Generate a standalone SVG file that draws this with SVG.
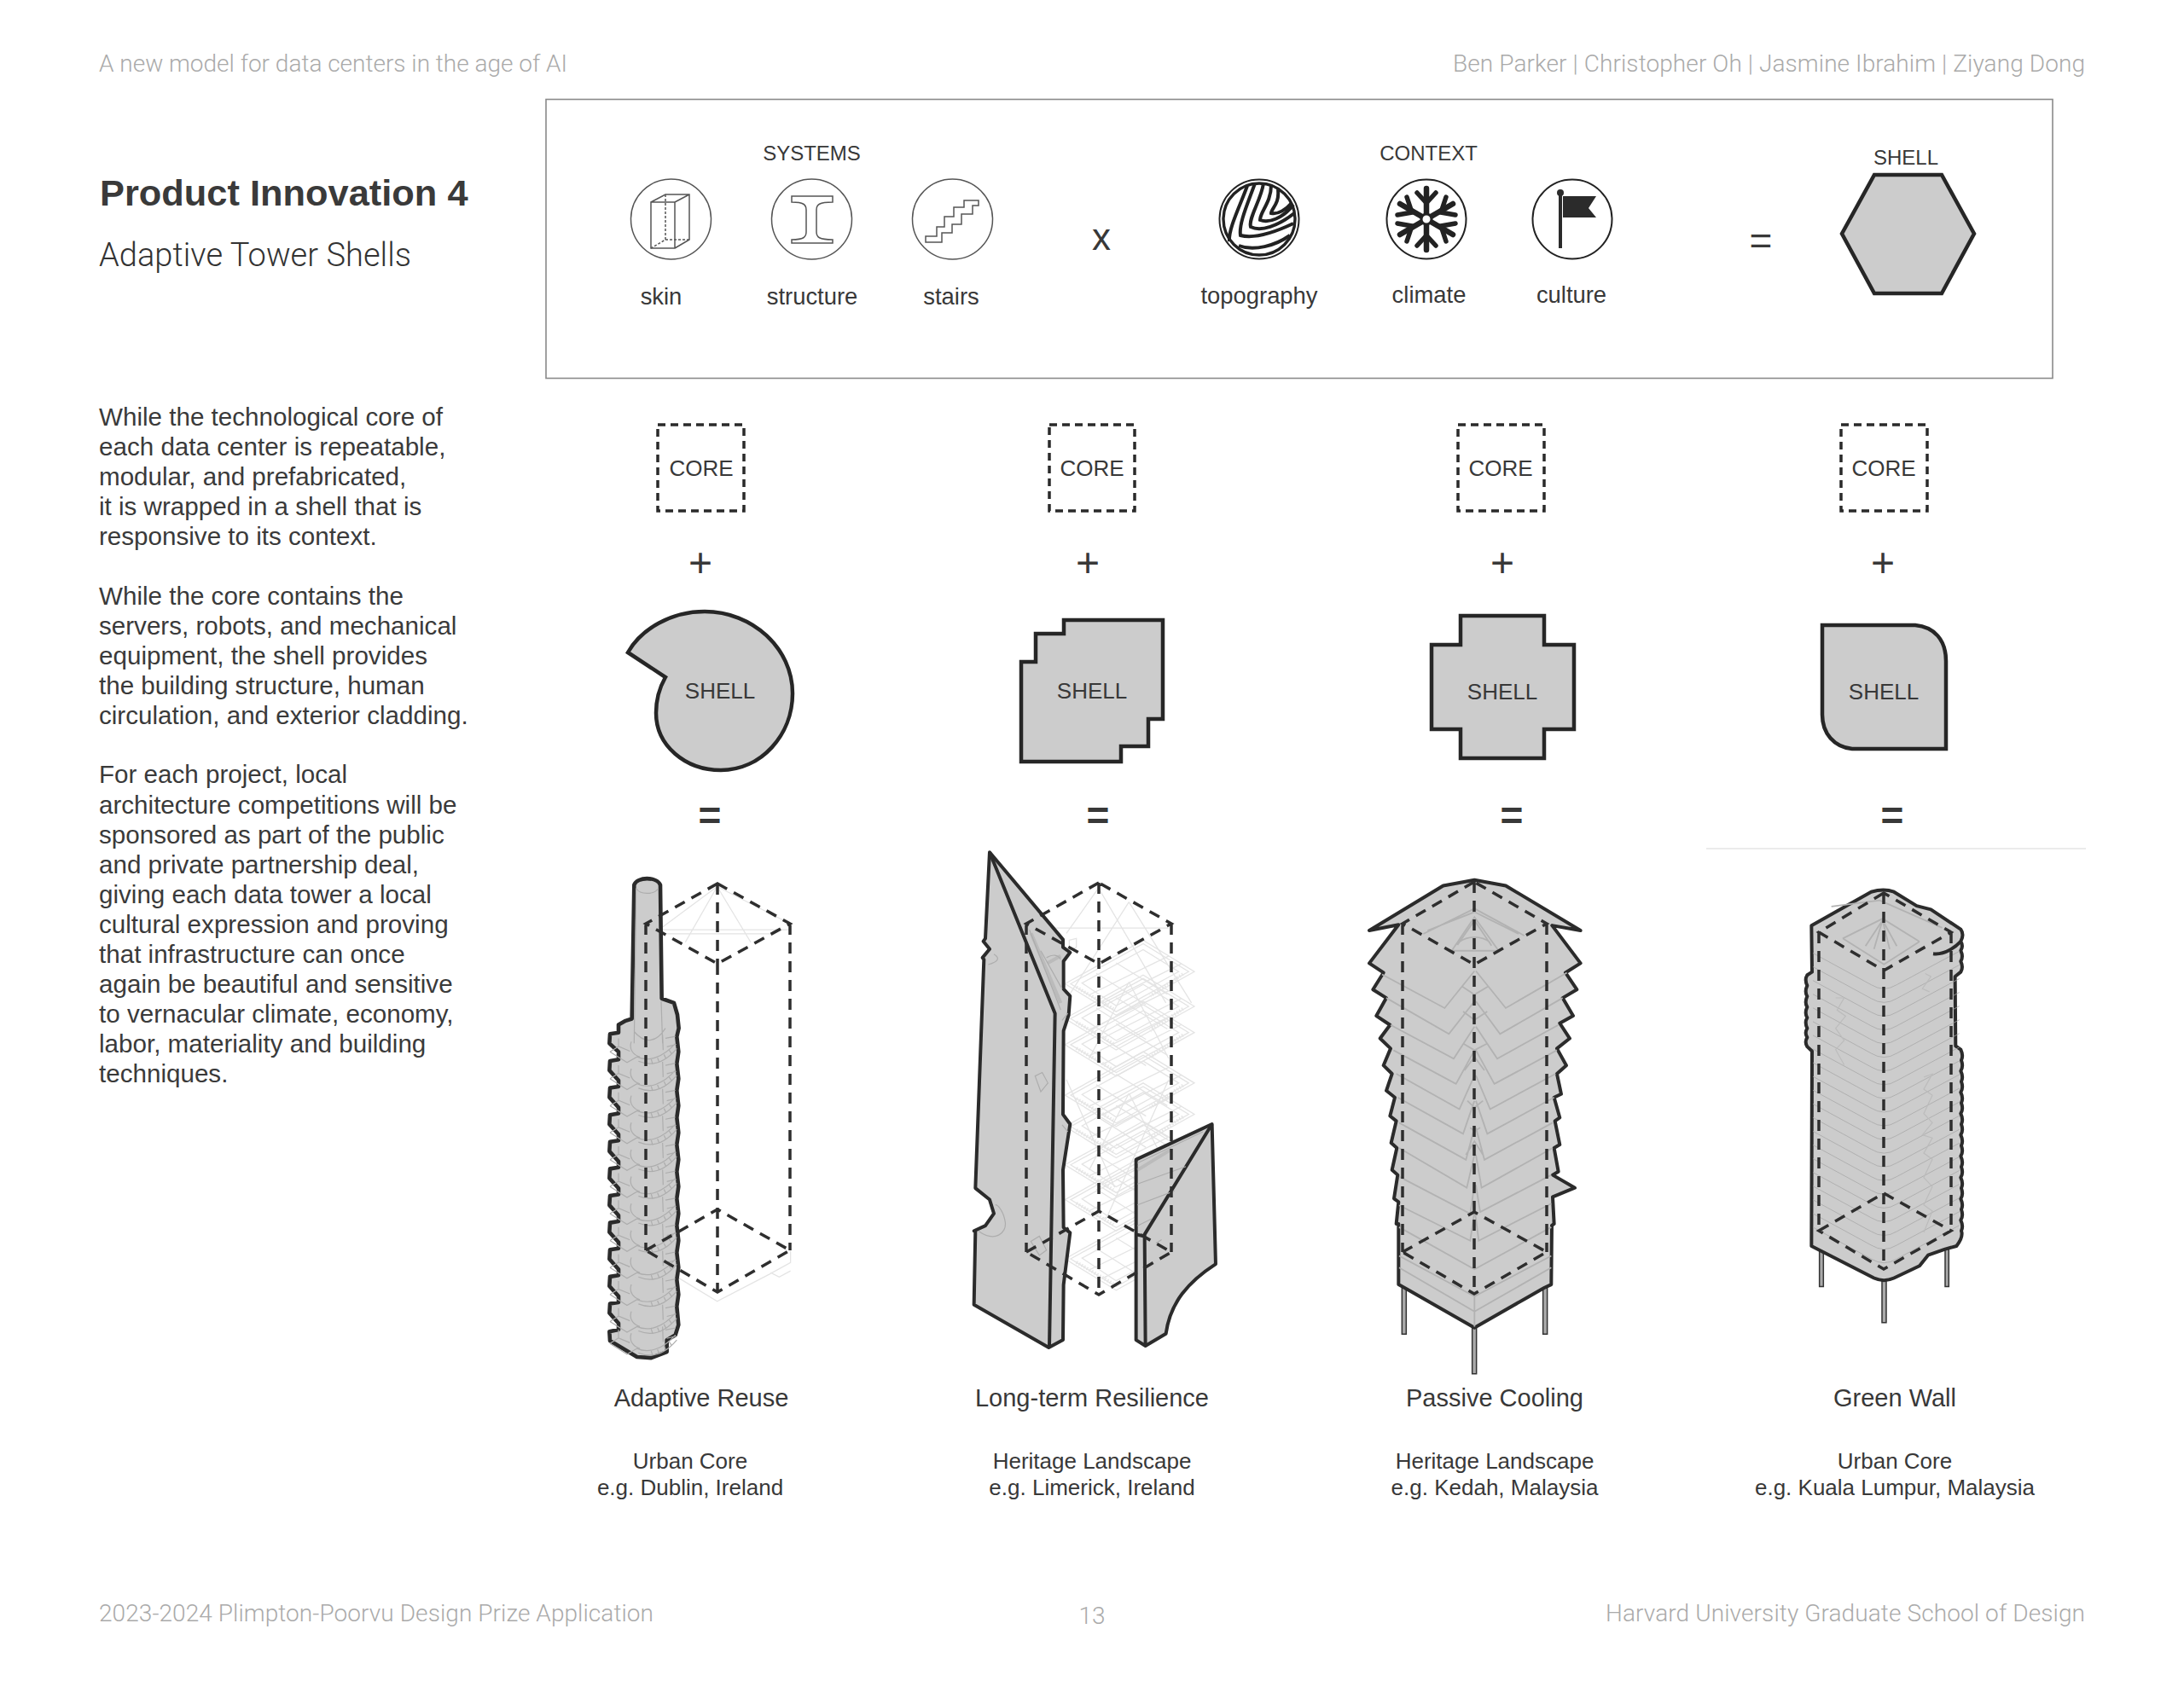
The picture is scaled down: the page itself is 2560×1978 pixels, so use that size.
<svg xmlns="http://www.w3.org/2000/svg" width="2560" height="1978" viewBox="0 0 2560 1978">
<style>
text{font-family:"Liberation Sans",Arial,sans-serif;fill:#383838}
.hd{font-family:Roboto,"Liberation Sans",sans-serif;font-weight:300;font-size:28px;fill:#aaa}
.body{font-size:29.6px;fill:#3a3a3a}
.lb{font-size:27.4px;text-anchor:middle}
.cap{font-size:24px;text-anchor:middle}
.t{font-size:26px;text-anchor:middle}
.sym{font-size:48px;text-anchor:middle}
.eq{font-size:46px;text-anchor:middle;font-weight:700}
.nm{font-size:29px;text-anchor:middle}
.sub{font-size:26px;text-anchor:middle}
.shell{fill:#ccc;stroke:#262626;stroke-width:4.5;stroke-linejoin:miter}
.core{fill:none;stroke:#2a2a2a;stroke-width:3.5;stroke-dasharray:9 6}
.dash{fill:none;stroke:#2e2e2e;stroke-width:3.5;stroke-dasharray:13 9;vector-effect:non-scaling-stroke}
.ic{fill:none;stroke:#555;stroke-width:1.5}
.o{fill:#ccc;stroke:#2b2b2b;stroke-width:4;stroke-linejoin:round;vector-effect:non-scaling-stroke}
.i{fill:none;stroke:#adadad;stroke-width:1.2;vector-effect:non-scaling-stroke}
.i2{fill:none;stroke:#b2b2b2;stroke-width:1.8;vector-effect:non-scaling-stroke}
.f{fill:none;stroke:#e4e4e4;stroke-width:1.3;vector-effect:non-scaling-stroke}
.leg{fill:#aaa;stroke:#333;stroke-width:1.5;vector-effect:non-scaling-stroke}
</style>
<defs>
<g id="stairfloor">
<path class="i" d="M135,-10 L135,14 L175,28 M105,30 L135,14 M105,30 L165,62 L200,45 C240,60 290,48 335,5 M180,0 C170,25 190,40 210,45 M205,58 C255,75 300,60 340,20 M290,-20 L292,25 M300,-10 L335,-16 M305,15 L338,8"/>
<path class="i" d="M250,52 L255,66 M272,48 L278,60 M295,38 L302,50 M313,25 L322,36"/>
</g>
<g id="plate">
<path class="f" d="M0,0 L275,-125 L455,-35 L180,90 Z M20,0 L275,-115 L435,-35 L180,80 Z M60,-2 L275,-98 L400,-35 L180,63 Z"/>
<path class="f" d="M90,30 L365,-80 M135,55 L410,-58 M180,-60 L360,30 M110,-30 L285,60"/>
<path d="M40,10 L170,72 M415,-28 L300,35" fill="none" stroke="#e6e6e6" stroke-width="4" stroke-dasharray="1.5 2" style="vector-effect:non-scaling-stroke"/>
</g>
<path id="band" d="M-250,-122 L-45,-18 Q0,8 45,-18 L265,-128"/>
</defs>
<rect width="2560" height="1978" fill="#fff"/>

<g id="page-text">
<text class="hd" x="116" y="84" textLength="549">A new model for data centers in the age of AI</text>
<text class="hd" x="2444" y="84" text-anchor="end" textLength="741">Ben Parker | Christopher Oh | Jasmine Ibrahim | Ziyang Dong</text>
<text x="117" y="241" font-size="43.4" font-weight="700" style="fill:#3a3a3a">Product Innovation 4</text>
<text x="116" y="312" font-size="38" style="font-family:Roboto,'Liberation Sans',sans-serif;font-weight:300;fill:#333" textLength="366">Adaptive Tower Shells</text>
<text class="body" x="116" y="499">While the technological core of</text>
<text class="body" x="116" y="534">each data center is repeatable,</text>
<text class="body" x="116" y="569">modular, and prefabricated,</text>
<text class="body" x="116" y="604">it is wrapped in a shell that is</text>
<text class="body" x="116" y="639">responsive to its context.</text>
<text class="body" x="116" y="709">While the core contains the</text>
<text class="body" x="116" y="744">servers, robots, and mechanical</text>
<text class="body" x="116" y="779">equipment, the shell provides</text>
<text class="body" x="116" y="814">the building structure, human</text>
<text class="body" x="116" y="849">circulation, and exterior cladding.</text>
<text class="body" x="116" y="918">For each project, local</text>
<text class="body" x="116" y="953.5">architecture competitions will be</text>
<text class="body" x="116" y="988.5">sponsored as part of the public</text>
<text class="body" x="116" y="1023.5">and private partnership deal,</text>
<text class="body" x="116" y="1058.5">giving each data tower a local</text>
<text class="body" x="116" y="1093.5">cultural expression and proving</text>
<text class="body" x="116" y="1128.5">that infrastructure can once</text>
<text class="body" x="116" y="1163.5">again be beautiful and sensitive</text>
<text class="body" x="116" y="1198.5">to vernacular climate, economy,</text>
<text class="body" x="116" y="1233.5">labor, materiality and building</text>
<text class="body" x="116" y="1268.5">techniques.</text>
<text class="hd" x="116" y="1901" textLength="650">2023-2024 Plimpton-Poorvu Design Prize Application</text>
<text class="hd" x="1280" y="1904" text-anchor="middle">13</text>
<text class="hd" x="2444" y="1901" text-anchor="end" textLength="562">Harvard University Graduate School of Design</text>
</g>

<g id="equation-panel">
<rect x="640" y="116.5" width="1766" height="327" fill="#fff" stroke="#8a8a8a" stroke-width="1.6"/>
<text class="cap" x="951.5" y="188">SYSTEMS</text>
<text class="cap" x="1674.5" y="188">CONTEXT</text>
<text class="cap" x="2234" y="192.5">SHELL</text>
<text class="sym" x="1291" y="293" style="font-size:44px">x</text>
<text class="eq" x="2064" y="298" style="font-weight:400">=</text>
</g>

<g id="icon-skin"><circle class="ic" cx="786.5" cy="257" r="47"/>
<path class="ic" d="M763,237 L763,291 L791,291 L791,237 Z M763,237 L780,228 L808,228 L808,281 L791,291 M791,237 L808,228"/>
<path class="ic" stroke-dasharray="3 2" d="M780,228 L780,281 L763,291 M780,281 L808,281"/>
<text class="lb" x="775" y="357">skin</text></g>
<g id="icon-structure"><circle class="ic" cx="951.5" cy="257" r="47"/>
<path class="ic" d="M928,230 L976,230 L976,237 C960,237 957,240 957,246 L957,272 C957,278 960,281 976,281 L976,285 L928,285 L928,281 C942,281 945,278 945,272 L945,246 C945,240 942,237 928,237 Z" stroke-width="1.8"/>
<text class="lb" x="952" y="357">structure</text></g>
<g id="icon-stairs"><circle class="ic" cx="1116.5" cy="257" r="47"/>
<path class="ic" stroke-width="1.8" d="M1085,284 L1085,277 L1098,277 L1098,266 L1107,266 L1107,254 L1118,254 L1118,243 L1130,243 L1130,235 L1147,235 L1147,241 L1140,241 L1140,251 L1127,251 L1127,263 L1116,263 L1116,273 L1104,273 L1104,284 Z"/>
<text class="lb" x="1115" y="357">stairs</text></g>
<g id="icon-topography"><circle cx="1476" cy="257" r="46.5" fill="#fff" stroke="#222" stroke-width="2"/><circle cx="1476" cy="257" r="42" fill="none" stroke="#222" stroke-width="3.4"/>
<path fill="none" stroke="#222" stroke-width="4" d="M1462,218 C1452,245 1440,268 1441,283 M1471,215 C1462,240 1452,262 1454,276 C1470,280 1495,272 1516,262 M1481,215 C1478,235 1463,256 1466,266 C1478,272 1498,265 1517,250 M1490,217 C1490,238 1477,248 1477,258 C1487,262 1504,256 1516,240 M1498,222 C1500,240 1490,244 1490,250 C1498,252 1508,245 1514,238 M1452,288 C1470,295 1495,288 1512,276"/>
<text class="lb" x="1476" y="356">topography</text></g>
<g id="icon-climate"><circle cx="1672" cy="257" r="46.5" fill="#fff" stroke="#222" stroke-width="2"/>
<g fill="none" stroke="#222" stroke-width="6.5" stroke-linecap="round"><path d="M1672,221 V293 M1641,239 L1703,275 M1703,239 L1641,275"/><path stroke-width="5.5" d="M1661,226 L1672,238 L1683,226 M1661,288 L1672,276 L1683,288 M1638,252 L1655,249 L1649,231 M1706,252 L1689,249 L1695,231 M1638,262 L1655,265 L1649,283 M1706,262 L1689,265 L1695,283"/></g>
<circle cx="1672" cy="257" r="6" fill="#fff" stroke="#222" stroke-width="3"/>
<text class="lb" x="1675" y="355">climate</text></g>
<g id="icon-culture"><circle cx="1843" cy="257" r="46.5" fill="#fff" stroke="#222" stroke-width="2"/>
<path fill="#2b2b2b" d="M1827,226 H1831 V291 H1827 Z M1832,230 H1871 L1862,244 L1871,255 H1832 Z"/><circle cx="1829" cy="226" r="4" fill="#2b2b2b"/>
<text class="lb" x="1842" y="355">culture</text></g>
<g id="shell-hexagon"><path class="shell" d="M2197,205 L2276,205 L2314,274 L2276,344 L2197,344 L2159,274 Z"/></g>

<g id="col1-formula">
<rect class="core" x="771" y="498" width="101" height="101"/><text class="t" x="822" y="558">CORE</text>
<text class="sym" x="821" y="676">+</text>
<path class="shell" d="M736,765 L780,794 C772,808 769,822 769,836 C769,874 803,903 845,903 C892,903 929,862 929,813 C929,760 882,717 826,717 C787,717 752,737 736,765 Z"/>
<text class="t" x="844" y="819">SHELL</text>
<text class="eq" x="832" y="972">=</text>
</g>
<g id="col2-formula">
<rect class="core" x="1230" y="498" width="100" height="101"/><text class="t" x="1280" y="558">CORE</text>
<text class="sym" x="1275" y="676">+</text>
<path class="shell" d="M1247,727 H1363 V843 H1346 V875 H1314 V893 H1197 V776 H1214 V743 H1247 Z"/>
<text class="t" x="1280" y="819">SHELL</text>
<text class="eq" x="1287" y="972">=</text>
</g>
<g id="col3-formula">
<rect class="core" x="1709" y="498" width="101" height="101"/><text class="t" x="1759" y="558">CORE</text>
<text class="sym" x="1761" y="676">+</text>
<path class="shell" d="M1712,722 H1810 V756 H1845 V855 H1810 V889 H1712 V855 H1678 V756 H1712 Z"/>
<text class="t" x="1761" y="820">SHELL</text>
<text class="eq" x="1772" y="972">=</text>
</g>
<g id="col4-formula">
<rect class="core" x="2158" y="498" width="101" height="101"/><text class="t" x="2208" y="558">CORE</text>
<text class="sym" x="2207" y="676">+</text>
<path class="shell" d="M2136,733 H2245 C2267,735 2281,750 2281,775 V878 H2171 C2150,876 2136,860 2136,838 Z"/>
<text class="t" x="2208" y="820">SHELL</text>
<text class="eq" x="2218" y="972">=</text>
<path d="M2000,995 H2445" stroke="#e4e4e4" stroke-width="1.6"/>
</g>

<g id="tower1" transform="translate(680,1000) scale(.3333,.3953)">
<path class="f" d="M482,100 L290,220 M482,100 L738,210 M290,228 H738 M482,100 L370,265 M482,100 L600,265 M290,240 H680 M345,1260 L482,1330 L665,1250 L740,1215 L740,1180 M670,1245 L700,1258 L740,1240"/>
<path class="o" style="stroke-width:4.6" d="M190,95 C200,70 270,70 282,95 L287,432 L330,445 L342,480 L347,520 L340,545 L346,590 L340,625 L346,670 L340,705 L346,750 L340,785 L346,830 L340,865 L346,910 L340,945 L346,990 L340,1025 L346,1070 L340,1105 L346,1150 L340,1185 L346,1230 L340,1265 L346,1310 L340,1345 L346,1400 L335,1430 L305,1445 L305,1480 L250,1498 L200,1495 L105,1447 L103,1420 L135,1414 L135,1395 L103,1365 L105,1337 L135,1333 L135,1315 L103,1285 L105,1257 L135,1253 L135,1235 L103,1205 L105,1177 L135,1173 L135,1155 L103,1125 L105,1097 L135,1093 L135,1075 L103,1045 L105,1017 L135,1013 L135,995 L103,965 L105,937 L135,933 L135,915 L103,885 L105,857 L135,853 L135,835 L103,805 L105,777 L135,773 L135,755 L103,725 L105,697 L135,693 L135,675 L103,645 L105,617 L135,613 L135,590 L103,565 L105,537 L135,533 L135,510 L160,498 L182,492 Z"/>
<path class="i" d="M197,105 C210,125 262,125 275,105 M197,105 L190,565 M285,440 L290,565 M190,530 C230,570 270,560 300,520"/>
<use href="#stairfloor" y="560"/><use href="#stairfloor" y="640"/><use href="#stairfloor" y="720"/><use href="#stairfloor" y="800"/><use href="#stairfloor" y="880"/><use href="#stairfloor" y="960"/><use href="#stairfloor" y="1040"/><use href="#stairfloor" y="1120"/><use href="#stairfloor" y="1200"/><use href="#stairfloor" y="1280"/><use href="#stairfloor" y="1360"/><use href="#stairfloor" y="1425"/>
</g>

<g id="tower2" transform="translate(1110,980) scale(.3333,.4082)">
<use href="#plate" x="415" y="425"/><use href="#plate" x="415" y="525"/><use href="#plate" x="415" y="600"/><use href="#plate" x="415" y="745"/><use href="#plate" x="415" y="835"/><use href="#plate" x="415" y="945"/><use href="#plate" x="415" y="1045"/><use href="#plate" x="415" y="1215"/>
<path class="f" d="M420,280 L533,150 L770,480 M640,190 L420,470 M640,190 L860,480 M290,265 H780 M640,420 L500,640 M640,420 L780,640 M420,700 L590,1010 M780,700 L560,1100 M640,740 L500,960 M640,740 L780,960 M430,300 L455,295 L455,320 L430,330 Z"/>
<path class="o" d="M150,47 L408,298 L408,320 L433,335 L410,360 L410,440 L433,460 L428,515 L410,560 L408,800 L433,828 L408,960 L410,1125 L433,1140 L410,1290 L408,1448 L358,1470 L95,1347 L100,1135 L95,1135 L135,1120 L165,1085 L150,1045 L100,1012 L130,355 L125,350 L150,325 L128,303 L135,295 Z"/>
<path class="o" d="M932,828 L665,930 L665,1448 L698,1465 L770,1430 C785,1340 850,1280 945,1230 Z"/>
<path class="o" style="fill:none" d="M150,47 L380,510 L360,1470 M932,828 L695,1145 L698,1465 M665,1145 L695,1150"/>
<path class="i" d="M290,270 L400,500 M330,330 L405,440 M350,350 C370,340 390,340 400,355 M405,530 L425,510 M165,340 C185,350 185,360 145,370 M310,690 L335,680 L355,710 L330,735 Z M110,1135 C170,1170 210,1140 205,1110 C200,1080 180,1060 170,1060 M295,1165 L325,1150 L350,1190 L325,1205 Z M670,940 L900,850 M670,1000 L840,950 M670,1060 L800,1020 M670,1120 L720,1100 M735,1170 L755,1160 M405,830 L425,850"/>
<path d="M296,280 L400,480 M355,365 L400,345 M670,960 L790,900" fill="none" stroke="#aaa" stroke-width="4" stroke-opacity=".5" style="vector-effect:non-scaling-stroke"/>
</g>

<g id="tower3" transform="translate(1580,1010) scale(.3333,.3953)">
<rect class="leg" x="190" y="1260" width="15" height="142"/><rect class="leg" x="686" y="1265" width="15" height="137"/><rect class="leg" x="437" y="1382" width="15" height="138"/>
<path class="o" d="M445,55 L335,72 L75,205 L178,188 L75,302 L125,330 L88,380 L135,405 L100,458 L148,485 L113,525 L150,555 L125,605 L155,630 L135,680 L165,700 L148,755 L170,770 L152,835 L172,850 L155,915 L175,930 L162,1000 L178,1010 L170,1075 L178,1075 L178,1255 L210,1270 L445,1383 L690,1265 L715,1255 L717,1080 L725,1075 L720,995 L798,968 L720,930 L740,920 L725,850 L745,840 L728,770 L745,760 L725,700 L750,690 L735,630 L768,605 L735,555 L780,525 L745,480 L792,458 L755,405 L805,380 L765,330 L818,302 L718,190 L818,205 L555,72 Z"/>
<path class="i2" d="M120,335 L340,435 L445,325 M770,330 L555,435 L450,325 M400,370 L445,395 L495,370 M135,405 L355,512 L445,415 M755,405 L535,512 L450,415 M405,445 L445,470 L490,445 M150,485 L372,585 L445,490 M740,485 L525,585 L450,490 M405,540 L445,560 L490,540 M160,560 L380,660 L445,560 M735,560 L515,660 L450,560 M410,620 L445,580 L480,620 M170,630 L392,735 L445,635 M730,630 L500,735 L450,635 M420,710 L445,730 L475,710 M175,700 L405,808 L445,710 M725,700 L490,808 L450,710 M430,790 L445,800 L465,790 M180,775 L415,885 L445,790 M720,775 L480,885 L450,790 M415,870 L445,830 L475,870 M180,850 L418,968 L445,870 M720,850 L470,968 L450,870 M180,935 L430,1045 L445,960 M715,930 L465,1040 L450,960 M180,1020 L430,1125 L445,1040 M715,1015 L460,1125 L447,1040 M180,1085 L445,1210 L715,1085 M180,1170 L445,1290 L715,1170 M180,1205 L445,1335 L715,1205 M445,1290 V1380 M265,215 L445,140 L620,220 M280,205 L445,150 L600,215 M365,265 L445,165 L530,265 M385,248 L445,175 L505,250 M365,265 H530 M390,240 C420,220 470,220 500,240"/>
</g>

<g id="tower4" transform="translate(2090,1020) scale(.3333,.3571)">
<rect class="leg" x="128" y="1250" width="14" height="118"/><rect class="leg" x="570" y="1245" width="13" height="123"/><rect class="leg" x="348" y="1350" width="15" height="136"/>
<path class="o" d="M100,183 L310,72 Q355,60 390,72 L470,118 L520,130 L625,195 Q638,212 625,235 Q635,250 625,265 Q635,285 625,300 Q635,320 625,335 L605,350 L607,578 L625,590 Q635,610 627,625 Q635,645 625,660 Q635,680 627,695 Q635,715 625,730 Q635,750 627,765 Q635,785 625,800 Q635,820 627,835 Q635,855 625,870 Q635,890 627,905 Q635,925 625,940 Q635,960 627,975 Q635,995 625,1010 Q635,1030 627,1045 Q635,1065 625,1080 Q635,1100 627,1115 Q635,1135 625,1150 Q635,1170 627,1185 Q635,1205 610,1235 L570,1245 L510,1265 L480,1300 L390,1340 Q355,1355 320,1340 L100,1235 L102,595 L85,580 Q75,565 85,550 Q75,535 85,520 Q75,500 85,485 Q75,470 85,450 Q75,435 85,415 Q75,400 85,380 Q75,360 85,345 L102,335 Z"/>
<g class="i2" style="stroke-width:2.2;stroke:#a6a6a6">
<use href="#band" x="355" y="395"/><use href="#band" x="355" y="440"/><use href="#band" x="355" y="485"/><use href="#band" x="355" y="530"/><use href="#band" x="355" y="575"/><use href="#band" x="355" y="620"/><use href="#band" x="355" y="665"/><use href="#band" x="355" y="710"/><use href="#band" x="355" y="755"/><use href="#band" x="355" y="800"/><use href="#band" x="355" y="845"/><use href="#band" x="355" y="890"/><use href="#band" x="355" y="935"/><use href="#band" x="355" y="980"/><use href="#band" x="355" y="1025"/><use href="#band" x="355" y="1070"/><use href="#band" x="355" y="1115"/><use href="#band" x="355" y="1160"/><use href="#band" x="355" y="1205"/><use href="#band" x="355" y="1250"/><use href="#band" x="355" y="1295"/>
</g>
<path class="i2" d="M170,120 L340,100 L560,190 M210,225 L350,160 L480,235 M210,225 L355,310 L480,235 M290,250 L350,165 L400,250 M320,260 L350,165 L375,260"/>
<path class="i" style="stroke:#bcbcbc" d="M185,420 L215,420 L190,460 L220,480 L185,520 L215,560 L185,590 L215,640 M500,340 L520,350 L490,390 L515,400 M495,680 L525,670 L495,720 L525,740 L495,800 L525,830 L490,870 L525,880 L495,930 L525,950 L495,1010 L525,1040 L495,1100 L525,1120 L495,1190"/>
<path class="o" style="fill:none" d="M528,275 C570,280 610,250 625,235"/>
</g>

<g id="connectors">
<path class="dash" d="M841,1036 L757,1083 L841,1130 L926,1083 Z M841,1036 V1130 M841,1130 V1515 M757,1083 V1466 M926,1083 V1466 M757,1466 L841,1418 L926,1466 L841,1515 Z"/>
<path class="dash" d="M1288,1035 L1203,1083 L1288,1130 L1373,1083 Z M1288,1035 V1518 M1203,1083 V1468 M1373,1083 V1468 M1203,1468 L1288,1420 L1373,1468 L1288,1518 Z"/>
<path class="dash" d="M1728,1034 L1644,1083 L1728,1131 L1813,1083 Z M1728,1034 V1517 M1644,1083 V1468 M1813,1083 V1468 M1644,1468 L1728,1421 L1813,1468 L1728,1517 Z"/>
<path class="dash" d="M2208,1047 L2132,1093 L2208,1138 L2287,1093 Z M2208,1047 V1488 M2132,1093 V1443 M2287,1093 V1443 M2132,1443 L2208,1399 L2287,1443 L2208,1488 Z"/>
</g>

<g id="captions">
<text class="nm" x="822" y="1649">Adaptive Reuse</text>
<text class="nm" x="1280" y="1649">Long-term Resilience</text>
<text class="nm" x="1752" y="1649">Passive Cooling</text>
<text class="nm" x="2221" y="1649">Green Wall</text>
<text class="sub" x="809" y="1722">Urban Core</text><text class="sub" x="809" y="1752.5">e.g. Dublin, Ireland</text>
<text class="sub" x="1280" y="1722">Heritage Landscape</text><text class="sub" x="1280" y="1752.5">e.g. Limerick, Ireland</text>
<text class="sub" x="1752" y="1722">Heritage Landscape</text><text class="sub" x="1752" y="1752.5">e.g. Kedah, Malaysia</text>
<text class="sub" x="2221" y="1722">Urban Core</text><text class="sub" x="2221" y="1752.5">e.g. Kuala Lumpur, Malaysia</text>
</g>
</svg>
